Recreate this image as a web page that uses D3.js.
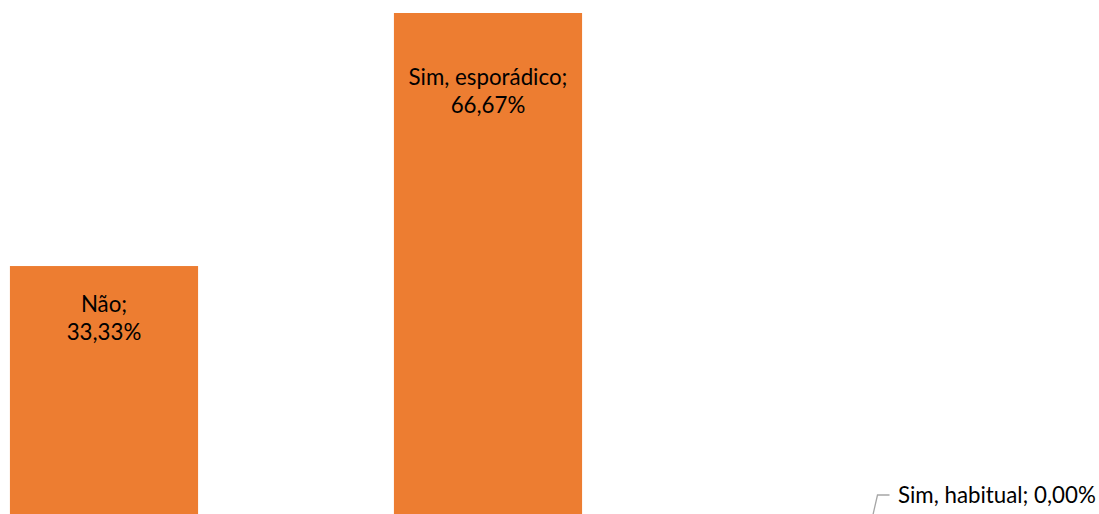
<!DOCTYPE html>
<html>
<head>
<meta charset="utf-8">
<script src="https://cdn.jsdelivr.net/npm/d3@7"></script>
<style>
  html, body { margin: 0; padding: 0; background: #ffffff; }
  svg { display: block; }
  text { font-family: Lato, "Open Sans", sans-serif; fill: #000000; }
</style>
</head>
<body>
<svg id="chart" width="1099" height="514"></svg>
<script>
// Responses and their shares (%)
const categories = ["Não", "Sim, esporádico", "Sim, habitual"];
const values = [33.33, 66.67, 0.00];
const valueLabels = ["33,33%", "66,67%", "0,00%"];

const W = 1099, H = 514;
const barColor = "#ED7D31";
const fontSize = 22.3;

const svg = d3.select("#chart");

// Band scale: bars ~188px wide on a 384px step
const x = d3.scaleBand()
  .domain(categories)
  .range([-88, 1064])
  .paddingInner(0.51)
  .paddingOuter(0.255);

// Value axis: baseline sits just below the visible area
const baseY = 519;
const y = d3.scaleLinear()
  .domain([0, 66.67])
  .range([baseY, 13]);

svg.append("g")
  .selectAll("rect")
  .data(categories)
  .join("rect")
  .attr("x", d => x(d))
  .attr("width", x.bandwidth())
  .attr("y", (d, i) => y(values[i]))
  .attr("height", (d, i) => baseY - y(values[i]))
  .attr("fill", barColor);

// Labels inside the two visible bars, two lines each
const insideOffsets = [38, 64];  // distance from bar top to the first line's center
const lineGap = 28;
[0, 1].forEach(i => {
  const cx = x(categories[i]) + x.bandwidth() / 2;
  const top = y(values[i]) + insideOffsets[i];
  const t = svg.append("text")
    .attr("text-anchor", "middle")
    .attr("font-size", fontSize);
  t.append("tspan").attr("x", cx).attr("y", top).attr("dy", "0.35em")
    .text(categories[i] + ";");
  t.append("tspan").attr("x", cx).attr("y", top + lineGap).attr("dy", "0.35em")
    .text(valueLabels[i]);
});

// Zero-height bar: callout label with a leader line
const cx3 = x(categories[2]) + x.bandwidth() / 2;
const y3 = y(values[2]);
svg.append("path")
  .attr("d", d3.line()([[cx3, y3], [cx3 + 5.5, 495], [cx3 + 17.5, 495]]))
  .attr("fill", "none")
  .attr("stroke", "#A6A6A6")
  .attr("stroke-width", 1.3);
svg.append("text")
  .attr("x", cx3 + 26)
  .attr("y", 495)
  .attr("dy", "0.35em")
  .attr("font-size", fontSize)
  .text(categories[2] + "; " + valueLabels[2]);
</script>
</body>
</html>
